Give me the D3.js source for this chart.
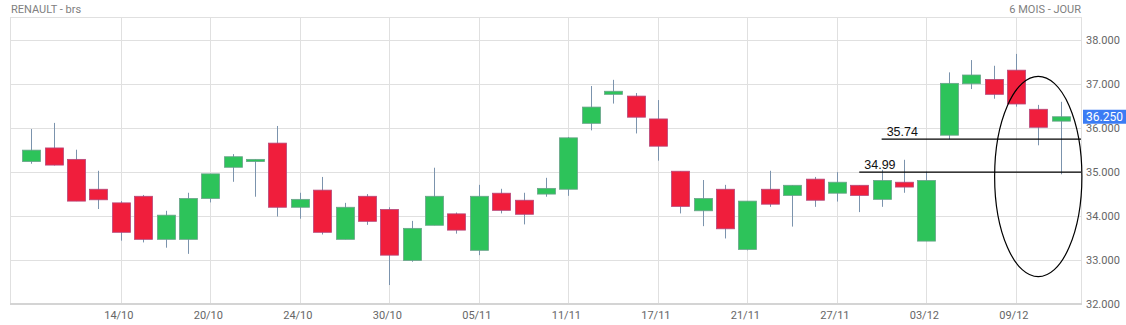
<!DOCTYPE html>
<html>
<head>
<meta charset="utf-8">
<script src="https://cdn.jsdelivr.net/npm/d3@7"></script>
<style>
  html, body { margin: 0; padding: 0; background: #fff; }
  svg { display: block; font-family: Roboto, "Noto Sans", sans-serif; }
</style>
</head>
<body>
<svg id="chart" width="1126" height="325"></svg>
<script>
// ---- Data (RENAULT, daily, 2014) ----
const dates = ["08/10","09/10","10/10","13/10","14/10","15/10","16/10","17/10","20/10","21/10","22/10","23/10","24/10",
  "27/10","28/10","29/10","30/10","31/10","03/11","04/11","05/11","06/11","07/11","10/11","11/11",
  "12/11","13/11","14/11","17/11","18/11","19/11","20/11","21/11","24/11","25/11","26/11","27/11",
  "28/11","01/12","02/12","03/12","04/12","05/12","08/12","09/12","10/12","11/12"];
const open  = [35.23,35.54,35.28,34.60,34.29,34.44,33.46,33.46,34.39,35.10,35.23,35.65,34.19,
  34.58,33.46,34.44,34.14,32.98,33.78,34.04,33.21,34.51,34.35,34.49,34.60,
  36.10,36.76,36.72,36.20,35.01,34.11,34.60,33.23,34.60,34.46,34.83,34.51,
  34.69,34.37,34.76,33.42,35.83,37.00,37.10,37.31,36.42,36.15];
const high  = [35.97,36.11,35.50,35.02,34.33,34.47,34.11,34.52,34.95,35.40,35.28,36.04,34.52,
  34.88,34.29,34.49,34.19,33.88,35.09,34.07,34.70,34.61,34.52,34.86,35.79,
  36.95,37.09,36.79,36.63,35.01,34.81,34.70,34.33,35.02,34.69,34.88,34.99,
  34.69,35.04,35.27,35.00,37.26,37.54,37.41,37.68,36.52,36.59];
const low   = [35.18,35.14,34.33,34.15,33.43,33.39,33.27,33.13,34.30,34.77,34.43,33.98,33.93,
  33.57,33.46,33.79,32.42,32.95,33.78,33.59,33.10,34.05,33.80,34.43,34.45,
  35.94,36.55,35.87,35.25,34.05,33.76,33.48,33.21,34.20,33.75,34.20,34.32,
  34.08,34.20,34.52,33.42,35.74,36.88,36.66,36.48,35.60,34.94];
const close = [35.49,35.15,34.33,34.36,33.62,33.46,34.01,34.39,34.95,35.34,35.28,34.19,34.37,
  33.62,34.19,33.87,33.10,33.71,34.44,33.67,34.44,34.12,34.03,34.62,35.77,
  36.47,36.83,36.24,35.58,34.21,34.39,33.70,34.33,34.26,34.69,34.35,34.76,
  34.46,34.80,34.65,34.80,37.01,37.20,36.76,36.54,36.01,36.25];
const xTickLabels = ["14/10","20/10","24/10","30/10","05/11","11/11","17/11","21/11","27/11","03/12","09/12"];
const yTickValues = [32,33,34,35,36,37,38];
const lastPrice = 36.25;
const levelValues = [35.74, 34.99];
const levelStart  = ["01/12", "28/11"];
const ellipseCenter = { date: "10/12", value: 34.89 };
const titleLeft = "RENAULT - brs";
const titleRight = "6 MOIS - JOUR";

// ---- Layout ----
const svg = d3.select("#chart");
const L = 11, R = 1081, T = 17, B = 303.5;
const x = d3.scalePoint().domain(dates).range([L, R]).padding(0.91);
const y = d3.scaleLinear().domain([32, 38.52]).range([B, T]);
const step = x.step();

// grid
const g = svg.append("g");
g.selectAll("line.hg").data(yTickValues).join("line")
  .attr("x1", L).attr("x2", R)
  .attr("y1", d => Math.round(y(d)) + 0.5).attr("y2", d => Math.round(y(d)) + 0.5)
  .attr("stroke", "#e0e0e0").attr("stroke-width", 1);
g.selectAll("line.vg").data(xTickLabels).join("line")
  .attr("x1", d => Math.round(x(d)) + 0.5).attr("x2", d => Math.round(x(d)) + 0.5)
  .attr("y1", T).attr("y2", B)
  .attr("stroke", "#e0e0e0").attr("stroke-width", 1);
// frame
g.append("line").attr("x1", L).attr("x2", R).attr("y1", T + 0.5).attr("y2", T + 0.5).attr("stroke", "#e0e0e0");
g.append("line").attr("x1", L - 0.5).attr("x2", L - 0.5).attr("y1", T).attr("y2", B).attr("stroke", "#e0e0e0");
g.append("line").attr("x1", R + 0.5).attr("x2", R + 0.5).attr("y1", T).attr("y2", B).attr("stroke", "#e0e0e0");
g.append("line").attr("x1", L - 1).attr("x2", R + 1).attr("y1", B + 0.5).attr("y2", B + 0.5).attr("stroke", "#d4d4d4").attr("stroke-width", 2);

// axis labels
svg.append("g").selectAll("text").data(xTickLabels).join("text")
  .attr("x", d => x(d) - 2).attr("y", 319)
  .attr("text-anchor", "middle").attr("font-size", 11).attr("fill", "#666")
  .text(d => d);
svg.append("g").selectAll("text").data(yTickValues).join("text")
  .attr("x", 1086).attr("y", d => y(d) + 4)
  .attr("font-size", 11).attr("fill", "#666")
  .text(d => d3.format(".3f")(d));

// titles
svg.append("text").attr("x", 11).attr("y", 13).attr("font-size", 11).attr("fill", "#808080").text(titleLeft);
svg.append("text").attr("x", R).attr("y", 13).attr("text-anchor", "end").attr("font-size", 11).attr("fill", "#808080").text(titleRight);

// candles
const candles = dates.map((d, i) => ({ d, o: open[i], h: high[i], l: low[i], c: close[i] }));
const cg = svg.append("g");
cg.selectAll("line.wick").data(candles).join("line")
  .attr("x1", d => Math.round(x(d.d)) + 0.5).attr("x2", d => Math.round(x(d.d)) + 0.5)
  .attr("y1", d => y(d.h)).attr("y2", d => y(d.l))
  .attr("stroke", "#7b93ad").attr("stroke-width", 1);
const bw = 18;
cg.selectAll("rect").data(candles).join("rect")
  .attr("x", d => Math.round(x(d.d)) + 0.5 - bw / 2)
  .attr("width", bw)
  .attr("y", d => y(Math.max(d.o, d.c)))
  .attr("height", d => Math.max(2, Math.abs(y(d.o) - y(d.c))))
  .attr("fill", d => d.c >= d.o ? "#2dc35a" : "#f01e3c")
  .attr("stroke", d => d.c >= d.o ? "#6aa38a" : "#b5487a")
  .attr("stroke-width", 0.8);

// annotations: horizontal levels
const ag = svg.append("g");
levelValues.forEach((v, i) => {
  const x0 = x(levelStart[i]);
  ag.append("line").attr("x1", x0).attr("x2", R).attr("y1", y(v)).attr("y2", y(v))
    .attr("stroke", "#000").attr("stroke-width", 1.3);
  ag.append("text").attr("x", x0 + 5).attr("y", y(v) - 3)
    .attr("font-size", 12.5).attr("fill", "#111").attr("font-family", "'Liberation Sans', Arial, sans-serif")
    .text(d3.format(".2f")(v));
});
// ellipse
ag.append("ellipse")
  .attr("cx", x(ellipseCenter.date)).attr("cy", y(ellipseCenter.value))
  .attr("rx", step * 1.95).attr("ry", y(32) - y(34.28))
  .attr("fill", "none").attr("stroke", "#000").attr("stroke-width", 1.2);

// last price tag
const ty = y(lastPrice);
svg.append("rect").attr("x", 1083).attr("y", ty - 7).attr("width", 43).attr("height", 14).attr("fill", "#3b7cf4");
svg.append("text").attr("x", 1086).attr("y", ty + 4.5).attr("font-size", 12).attr("fill", "#fff").text(d3.format(".3f")(lastPrice));
</script>
</body>
</html>
